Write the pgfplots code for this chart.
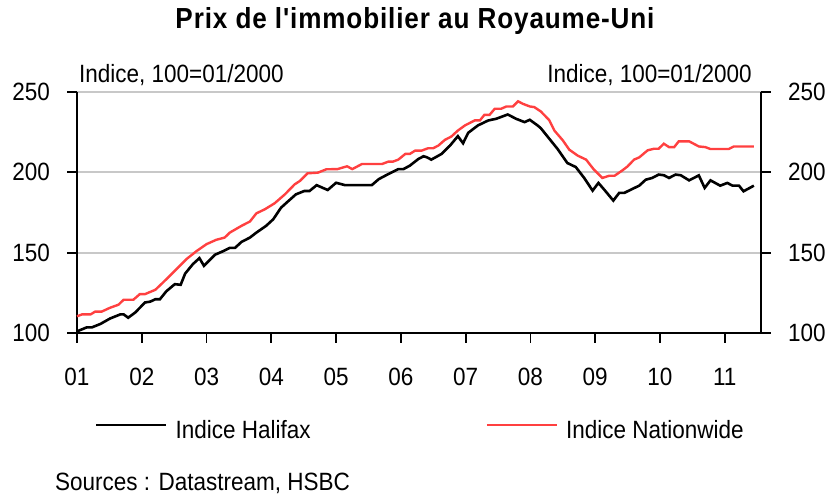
\documentclass[border=0pt]{standalone}
\usepackage{fontspec}
\setmainfont{Liberation Sans}[FakeStretch=0.9]
\newfontfamily\titlefont{Liberation Sans}[FakeStretch=0.9, LetterSpace=3]
\usepackage{pgfplots}
\pgfplotsset{compat=1.18}
\definecolor{nwred}{RGB}{255,64,64}
\definecolor{gridgray}{RGB}{200,200,200}

\pgfplotstableread{
t v
2001.00 101
2001.15 103.5
2001.23 103.5
2001.36 105.6
2001.51 109
2001.67 111.6
2001.72 111.6
2001.79 109.5
2001.90 112.8
2002.05 119
2002.13 119.5
2002.21 121
2002.28 121
2002.38 126
2002.51 130.4
2002.60 130
2002.67 137
2002.79 142.9
2002.89 146.6
2002.96 141.8
2003.13 148.7
2003.26 151
2003.36 153
2003.44 153
2003.54 156.7
2003.67 159.4
2003.77 162.5
2003.92 166.7
2004.03 170.8
2004.15 178
2004.26 182
2004.38 186.3
2004.51 188.4
2004.59 188.4
2004.70 192
2004.87 189
2005.00 193.5
2005.14 192
2005.55 192
2005.66 195.8
2005.81 199
2005.96 202
2006.04 202
2006.14 204.2
2006.27 208.3
2006.35 210
2006.40 209.4
2006.47 207.9
2006.63 211.5
2006.76 216.7
2006.88 222.5
2006.96 218.1
2007.04 224.6
2007.19 229.2
2007.35 232.3
2007.47 233.3
2007.65 236
2007.78 233.3
2007.91 231.25
2007.99 232.7
2008.11 229.2
2008.16 227.5
2008.27 222
2008.42 214.5
2008.57 205.8
2008.70 203.3
2008.83 196.5
2008.96 188.6
2009.05 193.4
2009.14 189.2
2009.28 182.4
2009.37 187.2
2009.45 187.2
2009.57 189.6
2009.68 191.7
2009.78 195.4
2009.88 196.5
2009.98 198.6
2010.06 198.2
2010.14 196.5
2010.24 198.6
2010.32 198.2
2010.45 195
2010.60 198.1
2010.69 190.3
2010.78 195
2010.93 191.7
2011.04 193.4
2011.12 191.7
2011.22 191.7
2011.29 188.2
2011.45 191.7
}\halifax

\pgfplotstableread{
t v
2001.00 110.4
2001.08 111.6
2001.21 111.6
2001.28 113.3
2001.38 113.3
2001.51 115.7
2001.64 117.6
2001.72 120.7
2001.87 120.7
2001.97 124.2
2002.05 124.2
2002.21 126.9
2002.33 131.5
2002.51 138.7
2002.69 146
2002.85 151.1
2003.00 155.3
2003.15 158
2003.28 159.4
2003.36 162.5
2003.54 166.7
2003.67 169.4
2003.77 174.5
2003.90 177
2004.05 180.7
2004.21 186.3
2004.36 192.5
2004.44 194.6
2004.56 199.4
2004.72 199.8
2004.85 201.9
2005.02 202
2005.17 203.75
2005.25 202
2005.40 205.2
2005.71 205.2
2005.81 206.7
2005.88 206.7
2005.96 207.9
2006.07 211.5
2006.14 211.5
2006.22 213.5
2006.32 213.5
2006.42 215
2006.50 215
2006.58 216.7
2006.68 220.2
2006.78 222.3
2006.88 226
2006.99 229.2
2007.14 232.3
2007.22 232.3
2007.29 235.8
2007.37 235.8
2007.45 239.6
2007.55 239.6
2007.63 241
2007.73 241
2007.81 244.2
2007.88 242.7
2007.99 241
2008.06 240.6
2008.16 237.9
2008.29 232.5
2008.37 226
2008.50 219.9
2008.60 214.1
2008.73 210.4
2008.86 207.9
2008.98 201.7
2009.11 196.5
2009.22 197.9
2009.30 197.9
2009.42 201.2
2009.50 203.7
2009.60 207.9
2009.68 209.3
2009.81 213.7
2009.91 214.7
2009.98 214.7
2010.06 217.8
2010.14 215.7
2010.22 215.7
2010.29 219.3
2010.45 219.3
2010.60 216.1
2010.70 215.7
2010.78 214.5
2011.06 214.5
2011.14 216.1
2011.45 216.1
}\nationwide

\pgfplotsset{
  common/.style={
    at={(0,0)}, anchor=south west,
    scale only axis, width=684bp, height=241bp,
    xmin=2001, xmax=2011.56, ymin=100, ymax=250,
    ytick={100,150,200,250},
    tick align=outside,
    major tick length=10bp,
    every tick/.style={black, line width=1.8bp},
    axis line style={black, line width=2bp},
    /pgf/number format/assume math mode=true,
    ticklabel style={inner sep=0pt},
    clip=false,
  }
}

\begin{document}
\fontsize{25bp}{30bp}\selectfont
\begin{tikzpicture}[x=1bp,y=1bp]
\path[use as bounding box] (-77,-163) rectangle (752,333);
\begin{axis}[common,
  axis x line*=bottom, axis y line*=left,
  xtick={2001,2002,2003,2004,2005,2006,2007,2008,2009,2010,2011},
  xticklabels={01,02,03,04,05,06,07,08,09,10,11},
  xticklabel style={anchor=north, yshift=-25bp},
  yticklabel style={anchor=east, xshift=-17bp},
  ymajorgrids, grid style={gridgray, line width=2.2bp},
  legend style={at={(axis description cs:0,0)}, anchor=north west,
    xshift=18bp, yshift=-87bp, draw=none, fill=none,
    inner sep=0pt, outer sep=0pt,
    nodes={inner sep=0pt},
    legend columns=2,
    /tikz/every odd column/.append style={column sep=8bp},
    /tikz/every even column/.append style={column sep=175bp}},
  legend cell align=left,
  legend image code/.code={\draw[#1] (0bp,6bp) -- (70bp,6bp);},
]
\addplot[black, line width=2.6bp] table {\halifax};
\addlegendentry{Indice Halifax}
\addplot[nwred, line width=2.4bp] table {\nationwide};
\addlegendentry{Indice Nationwide}
\end{axis}
\begin{axis}[common,
  axis x line=none, axis y line*=right,
  yticklabel style={anchor=west, xshift=17bp},
]
\end{axis}
\node[anchor=center] at (338,312) {\titlefont\fontsize{29bp}{34bp}\selectfont\bfseries Prix de l'immobilier au Royaume-Uni};
\node[anchor=base west, inner sep=0pt] at (2,250) {Indice, 100=01/2000};
\node[anchor=base east, inner sep=0pt] at (675,250) {Indice, 100=01/2000};
\node[anchor=base west, inner sep=0pt] at (-22,-158) {Sources : Datastream, HSBC};
\end{tikzpicture}
\end{document}
